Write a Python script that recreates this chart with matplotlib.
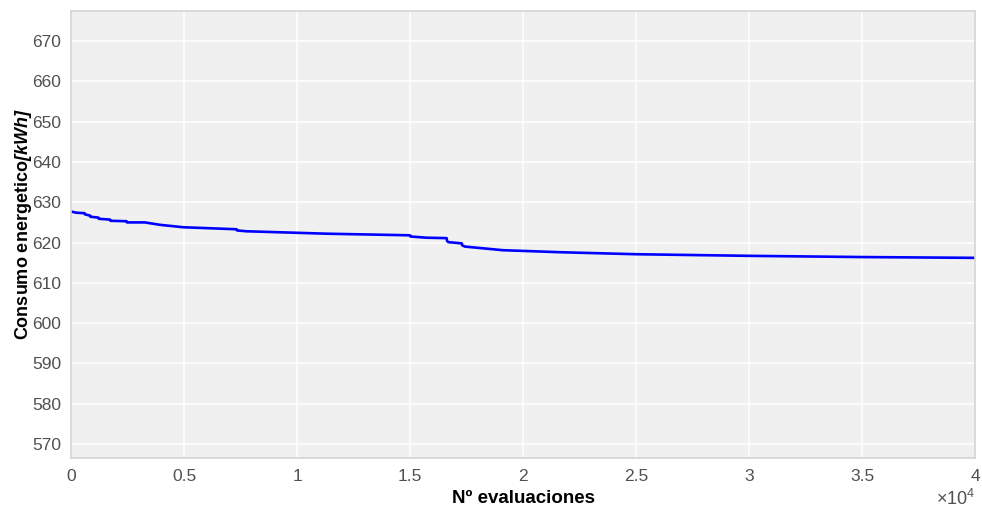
import numpy as np
import matplotlib.pyplot as plt
from matplotlib.ticker import FuncFormatter

plt.rcParams['font.family'] = ['Liberation Sans', 'DejaVu Sans']
plt.rcParams['mathtext.fontset'] = 'custom'
plt.rcParams['mathtext.rm'] = 'Liberation Sans'
plt.rcParams['mathtext.bf'] = 'Liberation Sans:bold'
plt.rcParams['mathtext.it'] = 'Liberation Sans:italic'
plt.rcParams['mathtext.bfit'] = 'Liberation Sans:italic:bold'

# Best energy consumption found so far vs. number of evaluations
evals = [0, 250, 600, 620, 840, 860, 1210, 1230, 1725, 1745, 2460, 2480, 3270,
         3940, 4960, 7330, 7350, 7770, 11310, 15000, 15020, 15740, 16620,
         16640, 16700, 17290, 17310, 17430, 19110, 21640, 25000, 30000, 35000, 40000]
energy = [627.7, 627.4, 627.3, 627.0, 626.7, 626.4, 626.2, 625.9, 625.7, 625.4,
          625.3, 625.0, 625.0,
          624.4, 623.8, 623.3, 623.0, 622.8, 622.2, 621.8, 621.5, 621.2, 621.1,
          620.4, 620.1, 619.8, 619.3, 619.0, 618.1, 617.6, 617.1, 616.7, 616.4, 616.2]

yticks = [570, 580, 590, 600, 610, 620, 630, 640, 650, 660, 670]
xticks = [0, 5000, 10000, 15000, 20000, 25000, 30000, 35000, 40000]

fig = plt.figure(figsize=(9.82, 5.11), dpi=100)
ax = fig.add_axes([0.0723, 0.1037, 0.9206, 0.8748])
ax.set_facecolor('#f0f0f0')

ax.plot(evals, energy, color='#0000ff', lw=1.9, solid_joinstyle='round')

ax.set_xlim(0, 40000)
ax.set_ylim(566.5, 677.5)
ax.set_xticks(xticks)
ax.set_yticks(yticks)
ax.xaxis.set_major_formatter(FuncFormatter(lambda v, p: '%g' % (v / 1e4)))
ax.grid(True, color='white', lw=1.1)
ax.set_axisbelow(True)
for s in ax.spines.values():
    s.set_color('#d4d4d4')
    s.set_linewidth(1.2)
ax.tick_params(length=0, labelsize=12.5, labelcolor='#505050')
ax.tick_params(axis='x', pad=8)
ax.tick_params(axis='y', pad=7)

ax.set_xlabel('Nº evaluaciones', fontsize=13.5, fontweight='bold')
ax.set_ylabel(r'Consumo energetico$\mathbfit{[kWh]}$', fontsize=13,
              fontweight='bold')
ax.xaxis.set_label_coords(0.5, -0.072)
ax.yaxis.set_label_coords(-0.041, 0.522)
ax.text(1.0, -0.114, r'$\times\mathregular{10^4}$', transform=ax.transAxes,
        ha='right', va='bottom', fontsize=13, color='#505050')

fig.savefig('out.png', dpi=100)
